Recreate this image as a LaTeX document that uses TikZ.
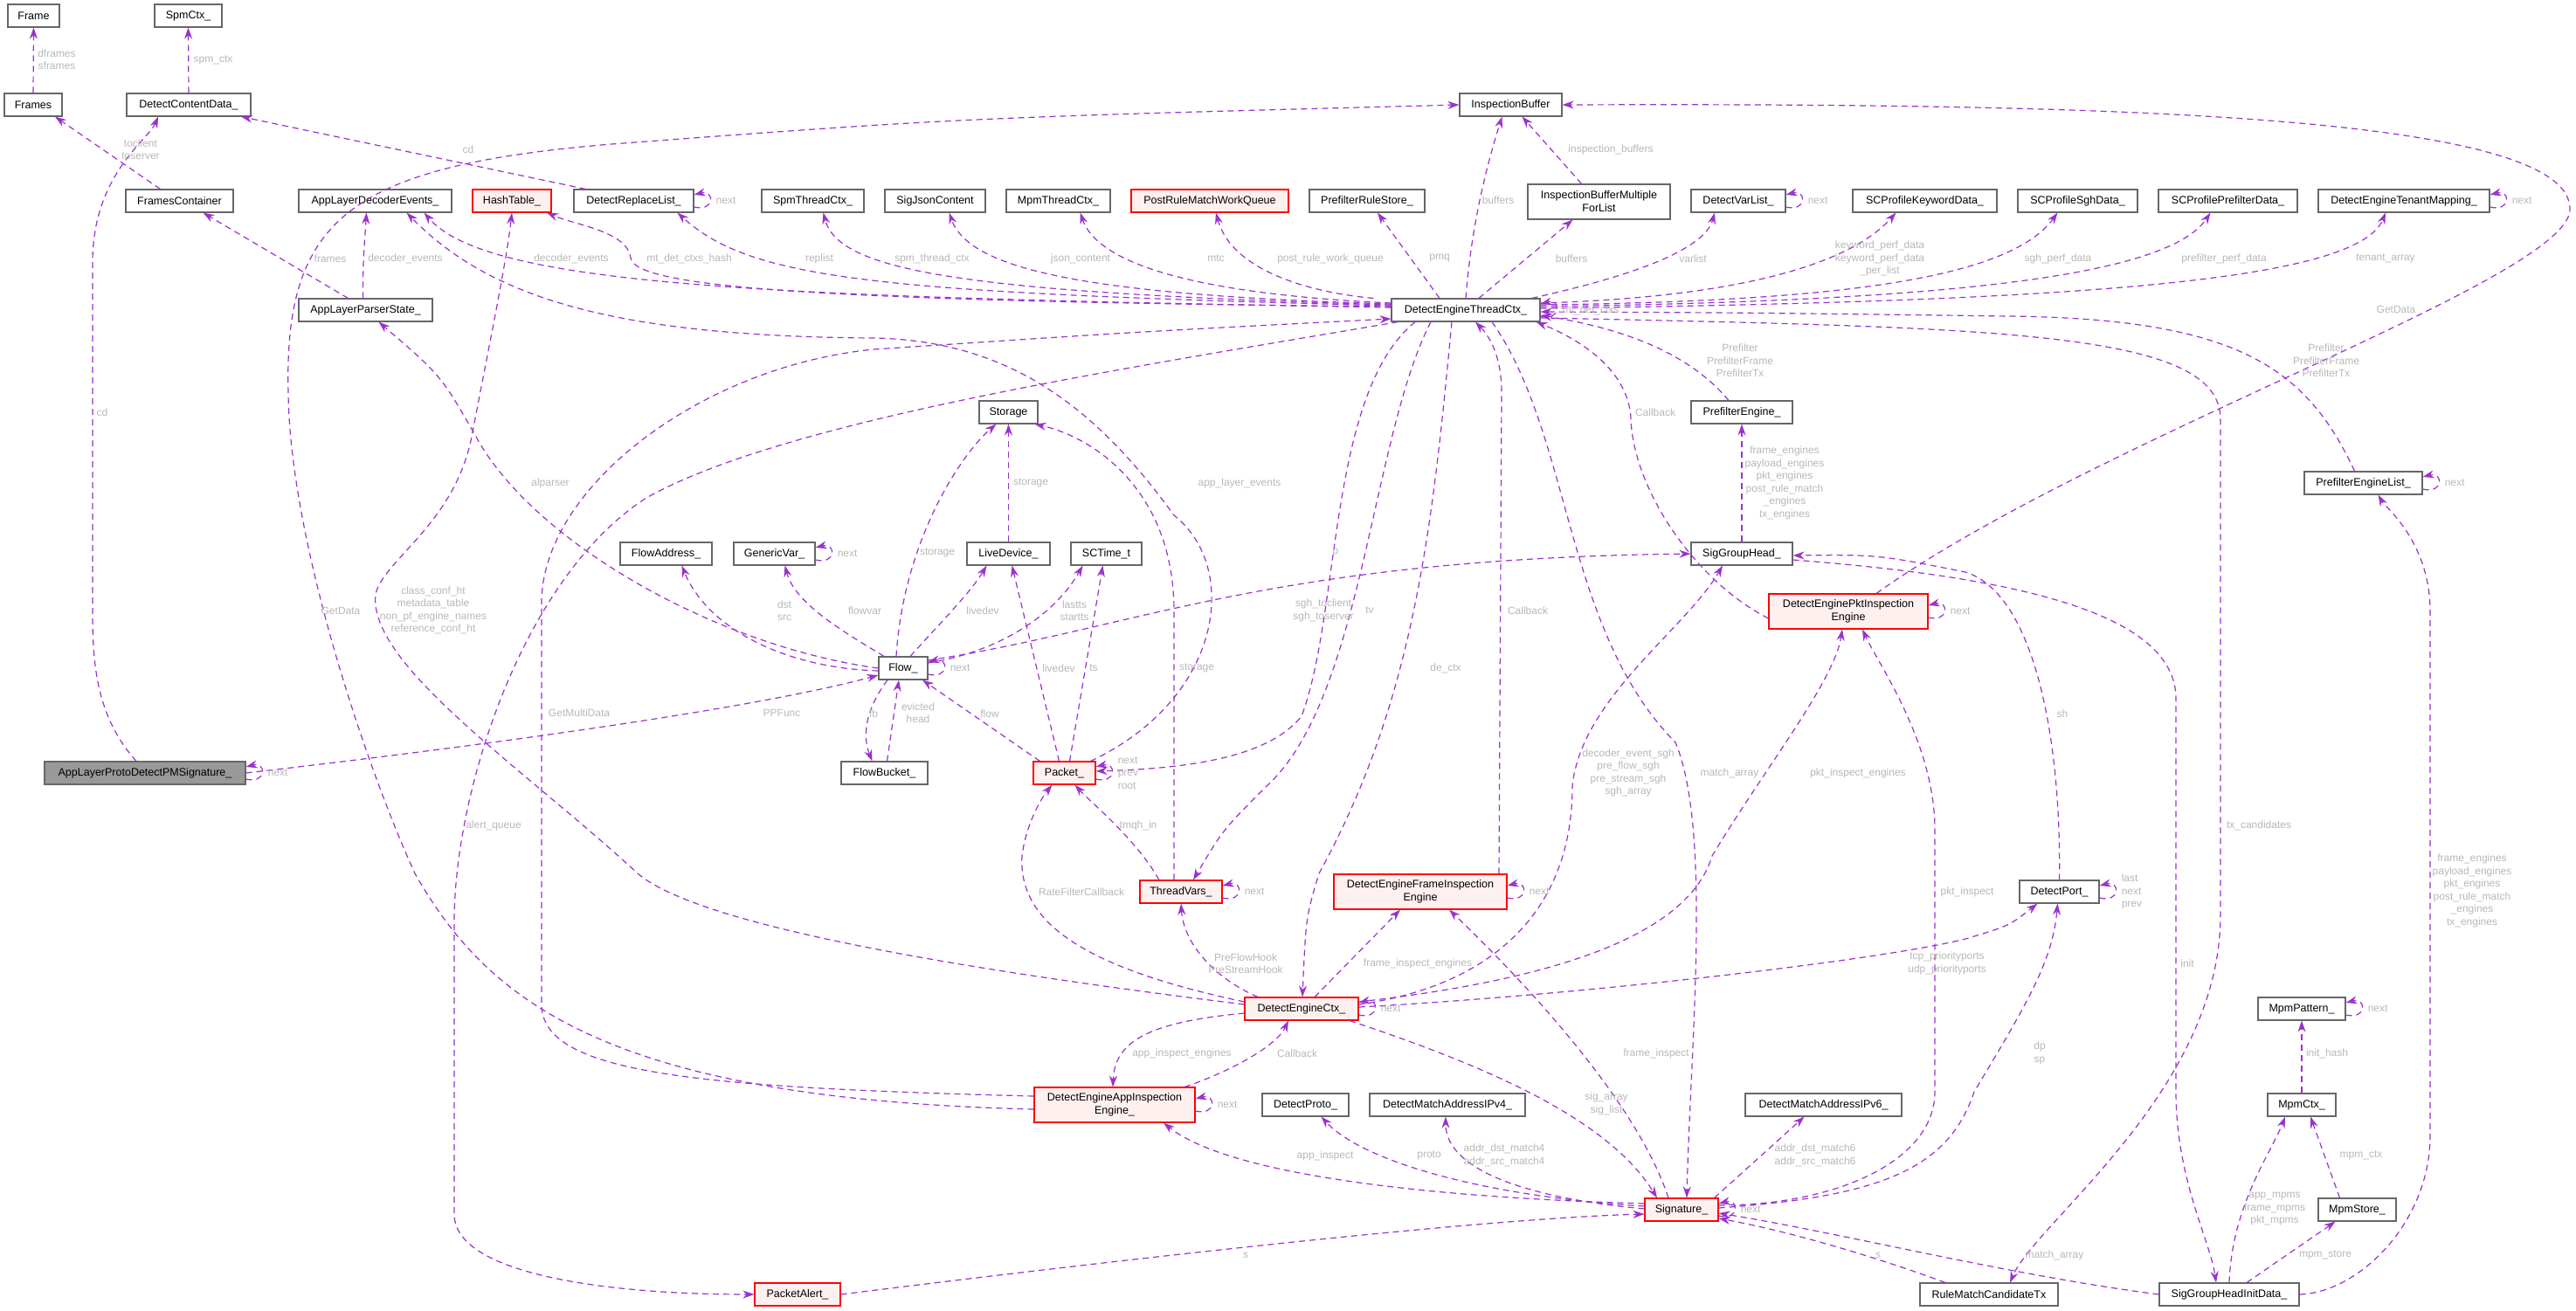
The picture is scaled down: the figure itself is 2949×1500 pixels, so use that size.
\documentclass[tikz,border=0pt]{standalone}
\usepackage{fontspec}
\setmainfont{Liberation Sans}
\usetikzlibrary{arrows.meta}
\definecolor{edgec}{HTML}{9A32CD}
\definecolor{lblgray}{HTML}{B8B8B8}
\definecolor{boxgray}{HTML}{666666}
\definecolor{redfill}{HTML}{FFF0F0}
\newcommand{\nfont}{\fontsize{12.5}{15}\selectfont}
\newcommand{\lfont}{\fontsize{12}{14.5}\selectfont}
\newcommand{\bx}[5]{\node[#1, minimum width=#4pt] (#2) at (#3) {#5};}
\newcommand{\lb}[3]{\node[lbl] (#1) at (#2) {#3};}
\newcommand{\selfloopR}[3]{\draw[edge] ([yshift=-7pt]#1.east) .. controls +(24,6) and +(24,-6) .. ([yshift=7pt]#1.east);
  \node[lbl,anchor=west,align=left] (#3) at ([xshift=25pt]#1.east) {#2};}
\begin{document}
\begin{tikzpicture}[x=1pt,y=-1pt,
  box/.style={draw=boxgray, fill=white, line width=1.1pt, minimum height=26pt, inner sep=2pt, font=\nfont, align=center},
  rbox/.style={box, draw=red, fill=redfill},
  gbox/.style={box, fill=black!40},
  tall/.style={minimum height=40pt},
  lbl/.style={font=\lfont, text=lblgray, align=center, inner sep=0pt},
  edge/.style={draw=edgec, line width=1.2pt, dash pattern=on 7pt off 5pt, -{Stealth[length=13pt,width=9pt]}}]
\fill[white] (0,0) rectangle (2949,1500);
\useasboundingbox (0,0) rectangle (2949,1500);
% nodes
\bx{box}{frame}{38.5,18}{59}{Frame}
\bx{box}{spmctx}{215.5,18}{77}{SpmCtx\_}
\bx{box}{frames}{38,120}{66}{Frames}
\bx{box}{dcd}{216,120}{142}{DetectContentData\_}
\bx{box}{ib}{1729.5,120}{117}{InspectionBuffer}
\bx{box}{fc}{205.5,230}{123}{FramesContainer}
\bx{box}{alde}{429.5,230}{175}{AppLayerDecoderEvents\_}
\bx{rbox}{ht}{586,230}{90}{HashTable\_}
\bx{box}{drl}{725.5,230}{137}{DetectReplaceList\_}
\bx{box}{stc}{930.5,230}{117}{SpmThreadCtx\_}
\bx{box}{sjc}{1070.5,230}{115}{SigJsonContent}
\bx{box}{mtc}{1211.5,230}{119}{MpmThreadCtx\_}
\bx{rbox}{prm}{1385,230}{180}{PostRuleMatchWorkQueue}
\bx{box}{prs}{1565,230}{132}{PrefilterRuleStore\_}
\bx{box,tall}{ibm}{1830.5,231}{163}{InspectionBufferMultiple\\ForList}
\bx{box}{dvl}{1990,230}{108}{DetectVarList\_}
\bx{box}{skd}{2203.5,230}{165}{SCProfileKeywordData\_}
\bx{box}{ssd}{2378.5,230}{137}{SCProfileSghData\_}
\bx{box}{spd}{2550.5,230}{159}{SCProfilePrefilterData\_}
\bx{box}{detm}{2752,230}{196}{DetectEngineTenantMapping\_}
\bx{box}{alps}{418.5,355}{153}{AppLayerParserState\_}
\bx{box}{detc}{1678,355}{170}{DetectEngineThreadCtx\_}
\bx{box}{stor}{1154.5,472}{67}{Storage}
\bx{box}{pe}{1994,472}{116}{PrefilterEngine\_}
\bx{box}{pel}{2705.5,553}{135}{PrefilterEngineList\_}
\bx{box}{fa}{762.5,634}{105}{FlowAddress\_}
\bx{box}{gv}{886.5,634}{93}{GenericVar\_}
\bx{box}{ld}{1154.5,634}{95}{LiveDevice\_}
\bx{box}{sct}{1266.5,634}{81}{SCTime\_t}
\bx{box}{sgh}{1994,634}{116}{SigGroupHead\_}
\bx{rbox,tall}{depie}{2116,700}{182}{DetectEnginePktInspection\\Engine}
\bx{box}{flow}{1034,765}{56}{Flow\_}
\bx{gbox}{alpd}{166,885}{230}{AppLayerProtoDetectPMSignature\_}
\bx{box}{fb}{1012.5,885}{99}{FlowBucket\_}
\bx{rbox}{pkt}{1218.5,885}{71}{Packet\_}
\bx{rbox}{tv}{1352,1021}{94}{ThreadVars\_}
\bx{rbox,tall}{defie}{1626,1021}{198}{DetectEngineFrameInspection\\Engine}
\bx{box}{dp}{2357.5,1021}{91}{DetectPort\_}
\bx{box}{mp}{2635,1155}{100}{MpmPattern\_}
\bx{rbox}{dec}{1490,1155}{130}{DetectEngineCtx\_}
\bx{rbox,tall}{deaie}{1276,1265}{184}{DetectEngineAppInspection\\Engine\_}
\bx{box}{dpr}{1494.5,1265}{99}{DetectProto\_}
\bx{box}{ipf}{1657,1265}{178}{DetectMatchAddressIPv4\_}
\bx{box}{ips}{2087.5,1265}{179}{DetectMatchAddressIPv6\_}
\bx{box}{mc}{2635,1265}{78}{MpmCtx\_}
\bx{rbox}{sig}{1925,1385}{84}{Signature\_}
\bx{box}{ms}{2698.5,1385}{89}{MpmStore\_}
\bx{rbox}{pa}{913,1482}{98}{PacketAlert\_}
\bx{box}{rm}{2277,1482}{158}{RuleMatchCandidateTx}
\bx{box}{sghid}{2552,1482}{160}{SigGroupHeadInitData\_}
% edges top
\draw[edge] (frames.north) -- (frame.south);
\draw[edge] (dcd.north) -- (spmctx.south);
\draw[edge] ([xshift=-22pt]fc.north) -- ([xshift=25pt]frames.south);
\draw[edge] ([xshift=-55pt]drl.north) -- ([xshift=60pt]dcd.south);
\draw[edge] ([xshift=-10pt]alpd.north) .. controls (110,820) and (106,760) .. (106,700) -- (106,300) .. controls (106,200) and (170,160) .. ([xshift=-35pt]dcd.south);
\draw[edge] ([xshift=-20pt]alps.north) -- ([xshift=27pt]fc.south);
\draw[edge] ([xshift=-3pt]alps.north) .. controls (415,300) and (418,270) .. ([xshift=-10pt]alde.south);
\draw[edge] ([yshift=3pt]detc.west) .. controls (900,340) and (560,330) .. ([xshift=56pt]alde.south);
\draw[edge] ([yshift=4pt]detc.west) .. controls (950,345) and (725,330) .. (722,295) .. controls (718,265) and (660,258) .. ([xshift=40pt]ht.south);
\draw[edge] ([yshift=5pt]detc.west) .. controls (1000,335) and (860,320) .. ([xshift=50pt]drl.south);
\draw[edge] ([yshift=6pt]detc.west) .. controls (1100,335) and (960,310) .. ([xshift=12pt]stc.south);
\draw[edge] ([yshift=7pt]detc.west) .. controls (1250,338) and (1110,310) .. ([xshift=16pt]sjc.south);
\draw[edge] ([yshift=8pt]detc.west) .. controls (1400,338) and (1260,310) .. ([xshift=25pt]mtc.south);
\draw[edge] ([xshift=-20pt]detc.north west) .. controls (1500,335) and (1410,310) .. ([xshift=7pt]prm.south);
\draw[edge] ([xshift=-30pt]detc.north) -- ([xshift=12pt]prs.south);
\draw[edge] (detc.north) .. controls (1685,250) and (1705,180) .. ([xshift=-10pt]ib.south);
\draw[edge] ([xshift=-20pt]ibm.north) -- ([xshift=13pt]ib.south);
\draw[edge] ([xshift=15pt]detc.north) -- ([xshift=-30pt]ibm.south);
\draw[edge] ([xshift=-10pt]detc.north east) .. controls (1850,320) and (1950,290) .. ([xshift=-27pt]dvl.south);
\draw[edge] ([yshift=8pt]detc.east) .. controls (2000,340) and (2120,300) .. ([xshift=-33pt]skd.south);
\draw[edge] ([yshift=6pt]detc.east) .. controls (2100,345) and (2300,320) .. ([xshift=-23pt]ssd.south);
\draw[edge] ([yshift=4pt]detc.east) .. controls (2200,345) and (2480,320) .. ([xshift=-20pt]spd.south);
\draw[edge] ([yshift=2pt]detc.east) .. controls (2400,345) and (2700,320) .. ([xshift=-21pt]detm.south);
\draw[edge] ([xshift=32pt]depie.north) .. controls (2400,500) and (2940,320) .. (2942,240) .. controls (2945,130) and (2400,118) .. (ib.east);
\draw[edge] ([xshift=-10pt]pel.north) .. controls (2640,420) and (2560,365) .. (2300,362) .. controls (2000,358) .. ([yshift=-2pt]detc.east);
\draw[edge] ([xshift=-15pt]pe.north) .. controls (1930,400) and (1850,375) .. ([yshift=-6pt]detc.east);
\draw[edge] ([yshift=-8pt]depie.west) .. controls (1940,665) and (1870,560) .. (1867,480) .. controls (1865,420) and (1800,385) .. ([xshift=-5pt]detc.south east);
\draw[edge] (sgh.north) -- (pe.south);
\draw[edge] ([yshift=-5pt]deaie.west) .. controls (700,1258) and (560,1150) .. (475,1000) .. controls (420,880) and (332,620) .. (330,450) .. controls (325,250) and (400,190) .. (700,165) .. controls (1100,135) .. (ib.west);
\draw[edge] ([yshift=10pt]deaie.west) .. controls (800,1245) and (620,1230) .. (620,1150) -- (620,690) .. controls (620,560) and (800,420) .. (1000,400) .. controls (1300,380) .. ([yshift=-10pt]detc.west);
\draw[edge] ([xshift=8pt]detc.south west) .. controls (1300,420) and (900,480) .. (740,570) .. controls (600,660) and (522,900) .. (520,1050) -- (520,1390) .. controls (520,1460) and (700,1482) .. (pa.west);
\draw[edge] (flow.west) .. controls (820,740) and (610,620) .. (545,500) .. controls (505,430) .. ([xshift=15pt]alps.south);
\draw[edge] ([yshift=5pt]dec.west) .. controls (1100,1110) and (800,1060) .. (730,1000) .. controls (600,880) and (420,760) .. (430,680) .. controls (440,640) and (520,600) .. (540,500) .. controls (555,420) and (580,300) .. (ht.south);
% flow area
\draw[edge] (alpd.east) .. controls (500,860) and (850,815) .. ([yshift=-8pt]flow.west);
\draw[edge] ([yshift=-3pt]flow.west) .. controls (900,765) and (810,720) .. ([xshift=18pt]fa.south);
\draw[edge] ([xshift=-22pt]flow.north) .. controls (960,720) and (910,690) .. ([xshift=12pt]gv.south);
\draw[edge] ([xshift=-8pt]flow.north) .. controls (1034,620) and (1100,520) .. ([xshift=-14pt]stor.south);
\draw[edge] (ld.north) -- (stor.south);
\draw[edge] ([xshift=-8pt]tv.north) -- (1344,700) .. controls (1344,560) and (1250,500) .. ([xshift=30pt]stor.south);
\draw[edge] ([xshift=8pt]flow.north) .. controls (1070,720) and (1110,680) .. ([xshift=-25pt]ld.south);
\draw[edge] ([yshift=6pt]flow.east) .. controls (1150,745) and (1210,700) .. ([xshift=-27pt]sct.south);
\draw[edge] ([yshift=9pt]flow.east) .. controls (1300,720) and (1450,640) .. (sgh.west);
\draw[edge] ([xshift=-18pt]flow.south) .. controls (985,820) and (990,850) .. ([xshift=-14pt]fb.north);
\draw[edge] ([xshift=3pt]fb.north) -- ([xshift=-5pt]flow.south);
\draw[edge] ([xshift=-28pt]pkt.north) -- ([xshift=22pt]flow.south);
\draw[edge] ([xshift=-6pt]pkt.north) -- ([xshift=4pt]ld.south);
\draw[edge] ([xshift=6pt]pkt.north) -- ([xshift=-4pt]sct.south);
\draw[edge] ([xshift=-58pt]detc.south) .. controls (1520,450) and (1535,700) .. (1490,820) .. controls (1450,870) and (1350,880) .. ([yshift=2pt]pkt.east);
\draw[edge] ([xshift=30pt]pkt.north) .. controls (1400,800) and (1420,650) .. (1344,590) .. controls (1250,460) and (1150,390) .. (1000,387) .. controls (700,385) and (560,340) .. ([xshift=36pt]alde.south);
\draw[edge] ([xshift=-40pt]detc.south) .. controls (1570,500) and (1560,800) .. (1450,900) .. controls (1400,950) .. ([xshift=14pt]tv.north);
\draw[edge] ([xshift=-25pt]tv.north) .. controls (1300,960) and (1250,920) .. ([xshift=12pt]pkt.south);
\draw[edge] ([xshift=-16pt]detc.south) .. controls (1640,600) and (1620,800) .. (1510,1000) .. controls (1495,1050) .. ([xshift=1pt]dec.north);
\draw[edge] ([xshift=90pt]defie.north) -- (1719,450) .. controls (1719,400) and (1700,380) .. ([xshift=11pt]detc.south);
\draw[edge] ([xshift=30pt]detc.south) .. controls (1800,500) and (1790,720) .. (1918,850) .. controls (1960,950) and (1935,1200) .. ([xshift=6pt]sig.north);
\draw[edge] ([yshift=5pt]dec.east) .. controls (1700,1130) and (1800,1050) .. (1800,900) .. controls (1810,800) and (1930,720) .. ([xshift=-22pt]sgh.south);
\draw[edge] ([yshift=8pt]dec.east) .. controls (1750,1125) and (1930,1080) .. (1960,980) .. controls (2020,880) and (2100,780) .. ([xshift=-7pt]depie.south);
\draw[edge] ([yshift=5pt]sig.east) .. controls (2100,1380) and (2215,1330) .. (2215,1250) -- (2215,950) .. controls (2215,850) and (2150,760) .. ([xshift=16pt]depie.south);
\draw[edge] (dp.north) .. controls (2360,850) and (2330,680) .. (2250,655) .. controls (2150,635) .. ([yshift=-2pt]sgh.east);
\draw[edge] ([yshift=-7pt]sgh.east) .. controls (2300,660) and (2491,700) .. (2491,800) -- (2491,1250) .. controls (2491,1350) and (2530,1420) .. ([xshift=-15pt]sghid.north);
\draw[edge] ([yshift=-9pt]detc.east) .. controls (2300,375) and (2542,380) .. (2542,480) -- (2542,1050) .. controls (2540,1250) and (2330,1400) .. ([xshift=24pt]rm.north);
\draw[edge] (sghid.east) .. controls (2700,1480) and (2782,1400) .. (2782,1300) -- (2782,700) .. controls (2782,620) and (2730,580) .. ([xshift=17pt]pel.south);
% bottom
\draw[edge] ([yshift=8pt]dec.west) .. controls (1250,1110) and (1165,1060) .. (1170,980) .. controls (1175,940) and (1195,910) .. ([xshift=-14pt]pkt.south);
\draw[edge] ([xshift=-50pt]dec.north) .. controls (1390,1120) and (1355,1080) .. (tv.south);
\draw[edge] ([xshift=15pt]dec.north) -- ([xshift=-23pt]defie.south);
\draw[edge] ([xshift=-15pt]sig.north) .. controls (1870,1250) and (1720,1100) .. ([xshift=33pt]defie.south);
\draw[edge] ([yshift=-5pt]dec.west) .. controls (1320,1170) and (1276,1190) .. ([xshift=-2pt]deaie.north);
\draw[edge] ([xshift=80pt]deaie.north) .. controls (1400,1230) and (1460,1200) .. ([xshift=-15pt]dec.south);
\draw[edge] ([xshift=55pt]dec.south) .. controls (1700,1220) and (1840,1280) .. ([xshift=-28pt]sig.north);
\draw[edge] ([yshift=7pt]sig.west) .. controls (1600,1370) and (1400,1340) .. ([xshift=56pt]deaie.south);
\draw[edge] ([yshift=4pt]sig.west) .. controls (1700,1370) and (1560,1330) .. ([xshift=18pt]dpr.south);
\draw[edge] ([yshift=1pt]sig.west) .. controls (1750,1372) and (1655,1340) .. ([xshift=-2pt]ipf.south);
\draw[edge] ([xshift=-5pt]sig.north east) -- ([xshift=-22pt]ips.south);
\draw[edge] ([yshift=2pt]sig.east) .. controls (2150,1370) and (2230,1340) .. (2260,1250) .. controls (2320,1150) and (2350,1100) .. ([xshift=-2pt]dp.south);
\draw[edge] ([yshift=2pt]dec.east) .. controls (1800,1140) and (2150,1100) .. (2250,1075) .. controls (2300,1060) .. ([xshift=-25pt]dp.south);
\draw[edge] (mc.north) -- (mp.south);
\draw[edge] ([xshift=-20pt]ms.north) -- ([xshift=10pt]mc.south);
\draw[edge] (sghid.north) .. controls (2555,1380) and (2600,1320) .. ([xshift=-19pt]mc.south);
\draw[edge] ([xshift=20pt]sghid.north) -- ([xshift=-25pt]ms.south);
\draw[edge] (sghid.west) .. controls (2300,1460) and (2100,1410) .. ([yshift=-4pt]sig.east);
\draw[edge] ([xshift=-50pt]rm.north) .. controls (2150,1440) and (2050,1410) .. ([yshift=-10pt]sig.east);
\draw[edge] (pa.east) .. controls (1300,1440) and (1700,1395) .. ([yshift=-5pt]sig.west);
% self loops
\selfloopR{drl}{next}{s1}
\selfloopR{dvl}{next}{s2}
\selfloopR{detm}{next}{s3}
\selfloopR{pel}{next}{s4}
\selfloopR{gv}{next}{s5}
\selfloopR{flow}{next}{s6}
\selfloopR{alpd}{next}{s7}
\selfloopR{pkt}{next\\prev\\root}{s8}
\selfloopR{depie}{next}{s9}
\selfloopR{tv}{next}{s10}
\selfloopR{defie}{next}{s11}
\selfloopR{dp}{last\\next\\prev}{s12}
\selfloopR{dec}{next}{s13}
\selfloopR{mp}{next}{s14}
\selfloopR{deaie}{next}{s15}
\selfloopR{sig}{next}{s16}
\selfloopR{detc}{mt\_det\_ctxs}{s17}
% labels
\lb{l1}{65,68}{dframes\\sframes}
\lb{l2}{244,69}{spm\_ctx}
\lb{l3}{161,171}{toclient\\toserver}
\lb{l4}{536,171}{cd}
\lb{l5}{117,472}{cd}
\lb{l6}{378,296}{frames}
\lb{l7}{464,296}{decoder\_events}
\lb{l8}{654,296}{decoder\_events}
\lb{l9}{789,296}{mt\_det\_ctxs\_hash}
\lb{l10}{938,296}{replist}
\lb{l11}{1067,296}{spm\_thread\_ctx}
\lb{l12}{1237,296}{json\_content}
\lb{l13}{1392,296}{mtc}
\lb{l14}{1523,296}{post\_rule\_work\_queue}
\lb{l15}{1648,296}{pmq}
\lb{l16}{1715,229}{buffers}
\lb{l17}{1844,171}{inspection\_buffers}
\lb{l18}{1799,296}{buffers}
\lb{l19}{1938,296}{varlist}
\lb{l20}{2152,296}{keyword\_perf\_data\\keyword\_perf\_data\\\_per\_list}
\lb{l21}{2356,296}{sgh\_perf\_data}
\lb{l22}{2546,296}{prefilter\_perf\_data}
\lb{l23}{2731,296}{tenant\_array}
\lb{l24}{2743,354}{GetData}
\lb{l25}{2663,413}{Prefilter\\PrefilterFrame\\PrefilterTx}
\lb{l26}{1992,413}{Prefilter\\PrefilterFrame\\PrefilterTx}
\lb{l27}{1895,472}{Callback}
\lb{l28}{2043,553}{frame\_engines\\payload\_engines\\pkt\_engines\\post\_rule\_match\\\_engines\\tx\_engines}
\lb{l29}{630,553}{alparser}
\lb{l30}{390,699}{GetData}
\lb{l31}{496,699}{class\_conf\_ht\\metadata\_table\\non\_pf\_engine\_names\\reference\_conf\_ht}
\lb{l32}{663,816}{GetMultiData}
\lb{l33}{895,816}{PPFunc}
\lb{l34}{565,945}{alert\_queue}
\lb{l35}{898,699}{dst\\src}
\lb{l36}{990,699}{flowvar}
\lb{l37}{1180,553}{storage}
\lb{l38}{1073,633}{storage}
\lb{l39}{1125,699}{livedev}
\lb{l40}{1230,699}{lastts\\startts}
\lb{l41}{1529,633}{p}
\lb{l42}{1419,553}{app\_layer\_events}
\lb{l43}{1515,699}{sgh\_toclient\\sgh\_toserver}
\lb{l44}{1568,699}{tv}
\lb{l45}{1749,699}{Callback}
\lb{l46}{1212,765}{livedev}
\lb{l47}{1252,765}{ts}
\lb{l48}{1370,765}{storage}
\lb{l49}{1655,765}{de\_ctx}
\lb{l50}{1000,817}{fb}
\lb{l51}{1051,816}{evicted\\head}
\lb{l52}{1133,817}{flow}
\lb{l53}{1303,945}{tmqh\_in}
\lb{l54}{1864,885}{decoder\_event\_sgh\\pre\_flow\_sgh\\pre\_stream\_sgh\\sgh\_array}
\lb{l55}{1980,885}{match\_array}
\lb{l56}{2127,885}{pkt\_inspect\_engines}
\lb{l57}{2361,817}{sh}
\lb{l58}{2586,945}{tx\_candidates}
\lb{l59}{2830,1020}{frame\_engines\\payload\_engines\\pkt\_engines\\post\_rule\_match\\\_engines\\tx\_engines}
\lb{l60}{1238,1021}{RateFilterCallback}
\lb{l61}{2252,1021}{pkt\_inspect}
\lb{l62}{1426,1103}{PreFlowHook\\PreStreamHook}
\lb{l63}{1623,1103}{frame\_inspect\_engines}
\lb{l64}{2229,1103}{tcp\_priorityports\\udp\_priorityports}
\lb{l65}{2504,1103}{init}
\lb{l66}{1353,1206}{app\_inspect\_engines}
\lb{l67}{1485,1206}{Callback}
\lb{l68}{1896,1206}{frame\_inspect}
\lb{l69}{2335,1206}{dp\\sp}
\lb{l70}{2664,1206}{init\_hash}
\lb{l71}{1839,1264}{sig\_array\\sig\_list}
\lb{l72}{1517,1323}{app\_inspect}
\lb{l73}{1636,1323}{proto}
\lb{l74}{1722,1323}{addr\_dst\_match4\\addr\_src\_match4}
\lb{l75}{2078,1323}{addr\_dst\_match6\\addr\_src\_match6}
\lb{l76}{2703,1323}{mpm\_ctx}
\lb{l77}{2604,1384}{app\_mpms\\frame\_mpms\\pkt\_mpms}
\lb{l78}{1426,1437}{s}
\lb{l79}{2150,1437}{s}
\lb{l80}{2352,1437}{match\_array}
\lb{l81}{2662,1437}{mpm\_store}
\end{tikzpicture}
\end{document}
